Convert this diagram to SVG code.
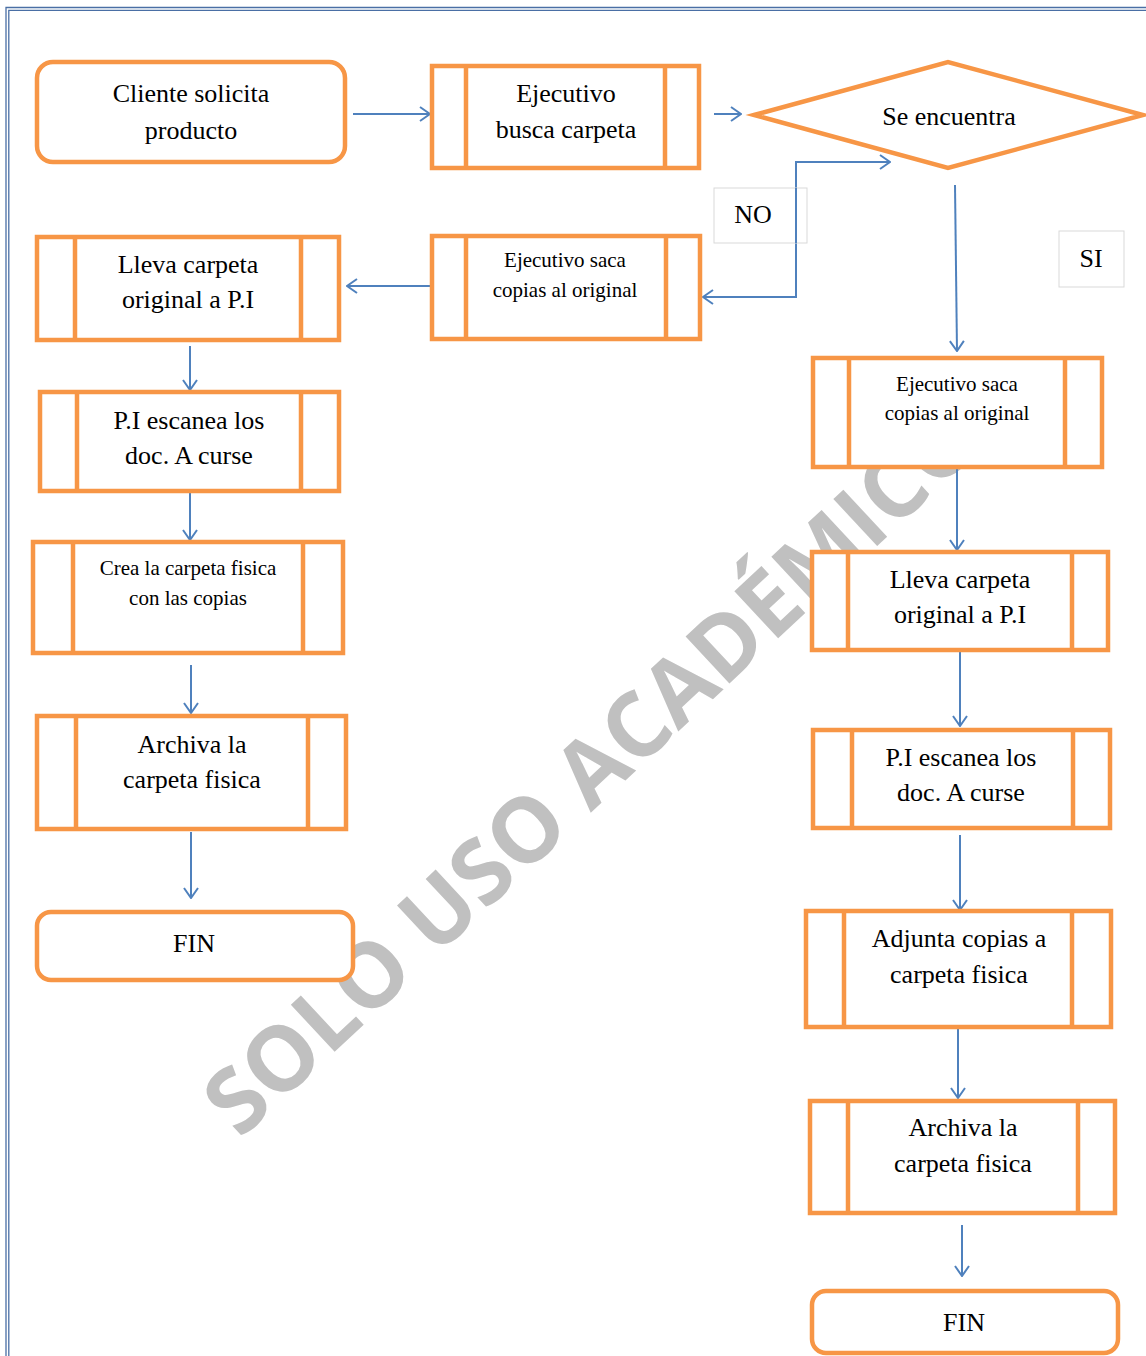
<svg xmlns="http://www.w3.org/2000/svg" width="1146" height="1356" viewBox="0 0 1146 1356">
<defs>
<style>
.box{fill:#fff;stroke:#F79646;stroke-width:4.5}
.bar{stroke:#F79646;stroke-width:4.5;fill:none}
.t{font-family:"Liberation Serif","Times New Roman",serif;font-size:26px;fill:#000;text-anchor:middle}
.s{font-family:"Liberation Serif","Times New Roman",serif;font-size:21px;fill:#000;text-anchor:middle}
.c{stroke:#4F81BD;stroke-width:2;fill:none;marker-end:url(#ah)}
.lbl{fill:#fff;stroke:#D9D9D9;stroke-width:1}
.wm{font-family:"Open Sans","DejaVu Sans",sans-serif;font-weight:bold;font-size:90px;fill:#C0C0C0}
</style>
<marker id="ah" viewBox="0 0 12 16" refX="11" refY="8" markerWidth="12" markerHeight="16" markerUnits="userSpaceOnUse" orient="auto-start-reverse">
<path d="M1,1 L11,8 L1,15" fill="none" stroke="#4F81BD" stroke-width="2"/>
</marker>
</defs>
<rect width="1146" height="1356" fill="#fff"/>
<g id="border" stroke="#4A6FA5" stroke-width="1.3" fill="none">
<path d="M6,1356 V7.5 H1146"/>
<path d="M8.8,1356 V10.3 H1146"/>
</g>
<g id="watermark">
<text class="wm" transform="translate(240,1140) rotate(-43)">SOLO USO ACADÉMICO</text>
</g>
<g id="connectors">
<path class="c" d="M353,114 H430"/>
<path class="c" d="M714,114 H741"/>
<path class="c" d="M890,162 H796 V297 H703" style="marker-start:url(#ah)"/>
<path class="c" d="M955,185 L957,351"/>
<path class="c" d="M430,286 H347"/>
<path class="c" d="M190,346 V390"/>
<path class="c" d="M190,493 V540"/>
<path class="c" d="M191,665 V713"/>
<path class="c" d="M191,832 V898"/>
<path class="c" d="M957,467 V550"/>
<path class="c" d="M960,651 V726"/>
<path class="c" d="M960,835 V910"/>
<path class="c" d="M958,1028 V1098"/>
<path class="c" d="M962,1225 V1276"/>
</g>
<g id="lbl-no">
<rect class="lbl" x="714" y="188" width="93" height="55"/>
<path d="M796,188 V243" stroke="#4F81BD" stroke-width="2"/>
<text class="t" x="753" y="223">NO</text>
</g>
<g id="lbl-si">
<rect class="lbl" x="1059" y="231" width="65" height="56"/>
<text class="t" x="1091" y="267">SI</text>
</g>
<g id="n-cliente">
<rect class="box" x="37" y="62" width="308" height="100" rx="16"/>
<text class="t" x="191" y="102">Cliente solicita</text>
<text class="t" x="191" y="139">producto</text>
</g>
<g id="n-busca">
<rect class="box" x="432" y="66" width="267" height="102"/>
<path class="bar" d="M466,66 V168 M665,66 V168"/>
<text class="t" x="566" y="102">Ejecutivo</text>
<text class="t" x="566" y="138">busca carpeta</text>
</g>
<g id="n-decision">
<polygon class="box" points="754,115 948,62 1143,115 948,168"/>
<text class="t" x="949" y="125">Se encuentra</text>
</g>
<g id="n-saca-no">
<rect class="box" x="432" y="236" width="268" height="103"/>
<path class="bar" d="M466,236 V339 M666,236 V339"/>
<text class="s" x="565" y="267">Ejecutivo saca</text>
<text class="s" x="565" y="297">copias al original</text>
</g>
<g id="n-lleva-l">
<rect class="box" x="37" y="237" width="302" height="103"/>
<path class="bar" d="M75,237 V340 M301,237 V340"/>
<text class="t" x="188" y="273">Lleva carpeta</text>
<text class="t" x="188" y="308">original a P.I</text>
</g>
<g id="n-escanea-l">
<rect class="box" x="40" y="392" width="299" height="99"/>
<path class="bar" d="M77,392 V491 M301,392 V491"/>
<text class="t" x="189" y="429">P.I escanea los</text>
<text class="t" x="189" y="464">doc. A curse</text>
</g>
<g id="n-crea">
<rect class="box" x="33" y="542" width="310" height="111"/>
<path class="bar" d="M73,542 V653 M303,542 V653"/>
<text class="s" x="188" y="575">Crea la carpeta fisica</text>
<text class="s" x="188" y="605">con las copias</text>
</g>
<g id="n-archiva-l">
<rect class="box" x="37" y="716" width="309" height="113"/>
<path class="bar" d="M76,716 V829 M308,716 V829"/>
<text class="t" x="192" y="753">Archiva la</text>
<text class="t" x="192" y="788">carpeta fisica</text>
</g>
<g id="n-fin-l">
<rect class="box" x="37" y="912" width="316" height="68" rx="14"/>
<text class="t" x="194" y="952">FIN</text>
</g>
<g id="n-saca-si">
<rect class="box" x="813" y="358" width="289" height="109"/>
<path class="bar" d="M849,358 V467 M1065,358 V467"/>
<text class="s" x="957" y="391">Ejecutivo saca</text>
<text class="s" x="957" y="420">copias al original</text>
</g>
<g id="n-lleva-r">
<rect class="box" x="812" y="552" width="296" height="98"/>
<path class="bar" d="M848,552 V650 M1072,552 V650"/>
<text class="t" x="960" y="588">Lleva carpeta</text>
<text class="t" x="960" y="623">original a P.I</text>
</g>
<g id="n-escanea-r">
<rect class="box" x="813" y="730" width="297" height="98"/>
<path class="bar" d="M852,730 V828 M1073,730 V828"/>
<text class="t" x="961" y="766">P.I escanea los</text>
<text class="t" x="961" y="801">doc. A curse</text>
</g>
<g id="n-adjunta">
<rect class="box" x="806" y="911" width="305" height="116"/>
<path class="bar" d="M844,911 V1027 M1072,911 V1027"/>
<text class="t" x="959" y="947">Adjunta copias a</text>
<text class="t" x="959" y="983">carpeta fisica</text>
</g>
<g id="n-archiva-r">
<rect class="box" x="810" y="1101" width="305" height="112"/>
<path class="bar" d="M848,1101 V1213 M1078,1101 V1213"/>
<text class="t" x="963" y="1136">Archiva la</text>
<text class="t" x="963" y="1172">carpeta fisica</text>
</g>
<g id="n-fin-r">
<rect class="box" x="812" y="1291" width="306" height="62" rx="14"/>
<text class="t" x="964" y="1331">FIN</text>
</g>
</svg>
